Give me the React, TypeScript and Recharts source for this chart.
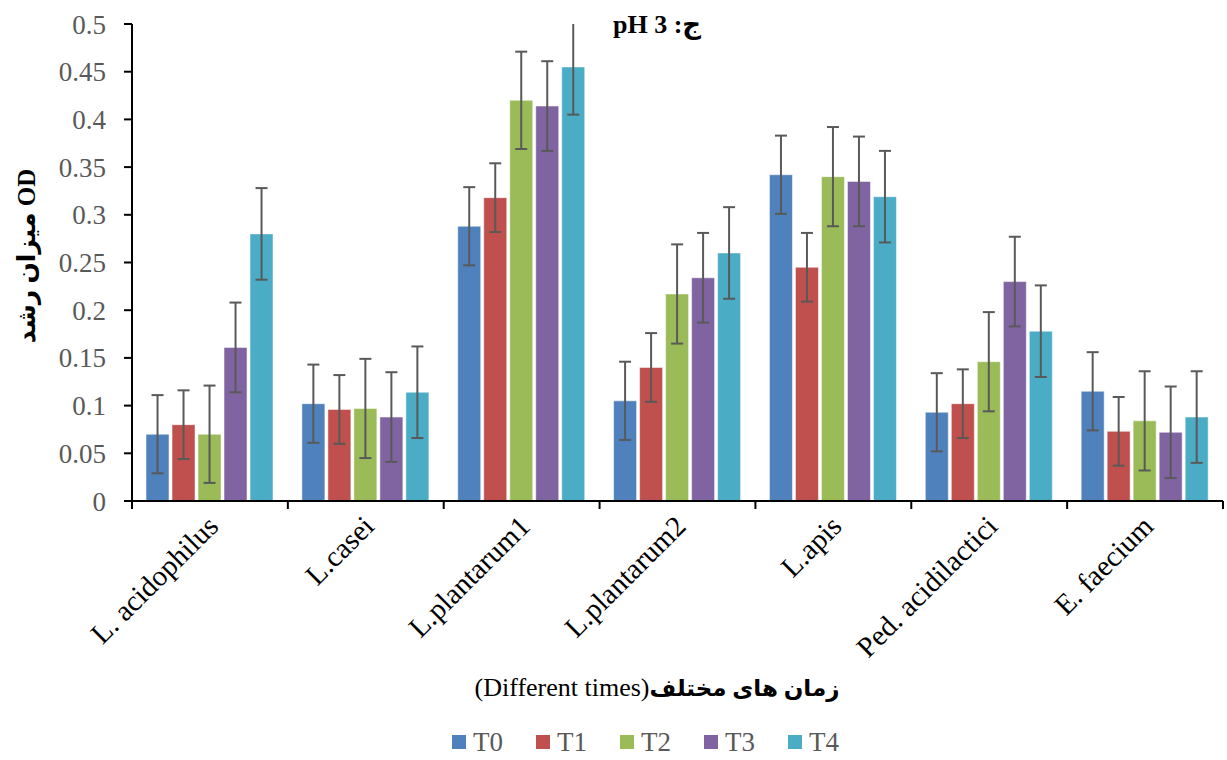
import { BarChart, Bar, XAxis, YAxis, ErrorBar, Legend, Customized } from 'recharts';

const categories = ['L. acidophilus', 'L.casei', 'L.plantarum1', 'L.plantarum2', 'L.apis', 'Ped. acidilactici', 'E. faecium'];
const seriesNames = ['T0', 'T1', 'T2', 'T3', 'T4'];
const colors = ['#4F81BD', '#C0504D', '#9BBB59', '#8064A2', '#4BACC6'];

const t0 = [0.07, 0.102, 0.288, 0.105, 0.342, 0.093, 0.115];
const t1 = [0.08, 0.096, 0.318, 0.14, 0.245, 0.102, 0.073];
const t2 = [0.07, 0.097, 0.42, 0.217, 0.34, 0.146, 0.084];
const t3 = [0.161, 0.088, 0.414, 0.234, 0.335, 0.23, 0.072];
const t4 = [0.28, 0.114, 0.455, 0.26, 0.319, 0.178, 0.088];

const t0Err = [0.041, 0.041, 0.041, 0.041, 0.041, 0.041, 0.041];
const t1Err = [0.036, 0.036, 0.036, 0.036, 0.036, 0.036, 0.036];
const t2Err = [0.051, 0.052, 0.051, 0.052, 0.052, 0.052, 0.052];
const t3Err = [0.047, 0.047, 0.047, 0.047, 0.047, 0.047, 0.048];
const t4Err = [0.048, 0.048, 0.05, 0.048, 0.048, 0.048, 0.048];

const yTicks = [0, 0.05, 0.1, 0.15, 0.2, 0.25, 0.3, 0.35, 0.4, 0.45, 0.5];

const values = [t0, t1, t2, t3, t4];
const errors = [t0Err, t1Err, t2Err, t3Err, t4Err];

const data = categories.map((name, i) => {
  const row: Record<string, string | number> = { name };
  seriesNames.forEach((s, k) => {
    row[s] = values[k][i];
    row[s + 'e'] = errors[k][i];
  });
  return row;
});

const FONT = '"Liberation Serif", "Times New Roman", serif';
const ARABIC_FONT = '"Liberation Serif", "DejaVu Sans", serif';

function CategoryTick(props: any) {
  const { x, y, payload, index, width } = props;
  const bw = (width || 1091) / categories.length;
  const last = index === categories.length - 1;
  const tx = x + 10;
  const ty = y + 27;
  return (
    <g>
      <line x1={x - bw / 2} x2={x - bw / 2} y1={y} y2={y + 8} stroke="#000" strokeWidth={2} />
      {last && <line x1={x + bw / 2} x2={x + bw / 2} y1={y} y2={y + 8} stroke="#000" strokeWidth={2} />}
      <text
        x={tx}
        y={ty}
        textAnchor="end"
        transform={`rotate(-45, ${tx}, ${ty})`}
        fontSize={29}
        fontFamily={FONT}
        fill="#000"
      >
        {payload.value}
      </text>
    </g>
  );
}

function LegendContent() {
  return (
    <div style={{ display: 'flex', justifyContent: 'center', alignItems: 'center', height: 36, paddingLeft: 68, fontFamily: FONT }}>
      {seriesNames.map((s, k) => (
        <div key={s} style={{ display: 'flex', alignItems: 'center', marginRight: k < seriesNames.length - 1 ? 33 : 0 }}>
          <span style={{ width: 14, height: 14, background: colors[k], display: 'inline-block', marginRight: 7 }} />
          <span style={{ fontSize: 27, color: '#595959', lineHeight: '36px' }}>{s}</span>
        </div>
      ))}
    </div>
  );
}

function Titles() {
  return (
    <g>
      <defs>
        <clipPath id="plotClip" clipPathUnits="userSpaceOnUse">
          <rect x={0} y={24} width={1227} height={520} />
        </clipPath>
      </defs>
      <text x={657} y={33} textAnchor="middle" fontSize={26} fontWeight="bold" fontFamily={ARABIC_FONT} fill="#000" direction="rtl">
        ج: pH 3
      </text>
      <text x={657} y={696} textAnchor="middle" fontSize={26} fontFamily={ARABIC_FONT} fill="#000" direction="rtl">
        <tspan fontWeight="bold" fontSize={23}>زمان های مختلف</tspan>
        <tspan>(Different times)</tspan>
      </text>
      <text
        x={35}
        y={256}
        textAnchor="middle"
        fontSize={25}
        fontWeight="bold"
        fontFamily={ARABIC_FONT}
        fill="#000"
        transform="rotate(-90, 35, 256)"
      >
        میزان رشد OD
      </text>
    </g>
  );
}

export default function App() {
  return (
    <div style={{ position: 'absolute', left: 0, top: 0, background: '#fff' }}>
      <style>{`.recharts-errorBar { clip-path: url(#plotClip); }`}</style>
      <BarChart
        width={1227}
        height={760}
        data={data}
        margin={{ top: 24, right: 4, bottom: 0, left: 0 }}
        barCategoryGap="9%"
        barGap={3}
      >
        <XAxis
          dataKey="name"
          height={223}
          interval={0}
          tickLine={false}
          tickSize={0}
          tickMargin={0}
          axisLine={{ stroke: '#000', strokeWidth: 2 }}
          tick={<CategoryTick />}
        />
        <YAxis
          width={132}
          domain={[0, 0.5]}
          allowDataOverflow
          ticks={yTicks}
          interval={0}
          tickFormatter={(v: number) => String(v)}
          axisLine={{ stroke: '#000', strokeWidth: 2 }}
          tickLine={{ stroke: '#000', strokeWidth: 2 }}
          tickSize={8}
          tickMargin={18}
          tick={{ fontSize: 27, fill: '#595959', fontFamily: FONT }}
        />
        {seriesNames.map((s, k) => (
          <Bar key={s} dataKey={s} fill={colors[k]} stroke="#ffffff" strokeOpacity={0.5} strokeWidth={1} isAnimationActive={false}>
            <ErrorBar dataKey={s + 'e'} width={6} stroke="#595959" strokeWidth={2} direction="y" />
          </Bar>
        ))}
        <Legend verticalAlign="bottom" content={<LegendContent />} />
        <Customized component={<Titles />} />
      </BarChart>
    </div>
  );
}
